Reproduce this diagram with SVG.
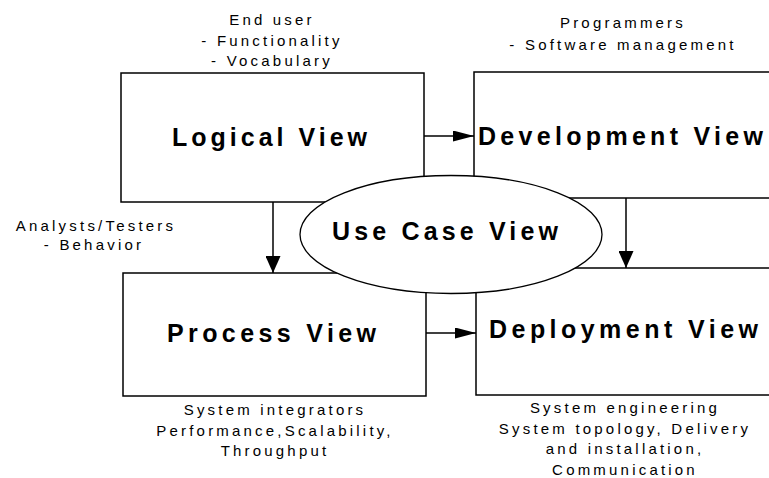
<svg xmlns="http://www.w3.org/2000/svg" width="769" height="478" viewBox="0 0 769 478">
<style>
.box{fill:#fff;stroke:#000;stroke-width:1.5}
.ell{fill:#fff;stroke:#000;stroke-width:1.3}
.title{font-family:"Liberation Sans",Arial,sans-serif;font-weight:bold;font-size:25px;fill:#000}
.note{font-family:"Liberation Sans",Arial,sans-serif;font-size:15px;letter-spacing:3.2px;fill:#000;text-anchor:middle}
.conn{stroke:#000;stroke-width:1.5;fill:none}
</style>
<defs>
<marker id="ah" markerUnits="userSpaceOnUse" markerWidth="21" markerHeight="11" refX="21" refY="5.5" orient="auto">
<path d="M0,0 L21,5.5 L0,11 z" fill="#000"/>
</marker>
<marker id="av" markerUnits="userSpaceOnUse" markerWidth="17" markerHeight="15" refX="17" refY="7.5" orient="auto">
<path d="M0,0 L17,7.5 L0,15 z" fill="#000"/>
</marker>
</defs>
<rect width="769" height="478" fill="#fff"/>
<g id="logical">
<rect class="box" x="121" y="73" width="303" height="129"/>
<text class="title" x="172" y="146" textLength="195" lengthAdjust="spacing">Logical View</text>
<text class="note" x="272" y="25">End user</text>
<text class="note" x="272" y="45.5">- Functionality</text>
<text class="note" x="272" y="66">- Vocabulary</text>
</g>
<g id="development">
<rect class="box" x="474" y="72" width="330" height="126"/>
<text class="title" x="478" y="145" textLength="285" lengthAdjust="spacing">Development View</text>
<text class="note" x="623" y="28">Programmers</text>
<text class="note" x="623" y="50">- Software management</text>
</g>
<g id="process">
<rect class="box" x="123" y="273" width="303" height="123"/>
<text class="title" x="167" y="342" textLength="209" lengthAdjust="spacing">Process View</text>
<text class="note" x="275" y="415">System integrators</text>
<text class="note" x="275" y="435.5">Performance,Scalability,</text>
<text class="note" x="275" y="456">Throughput</text>
</g>
<g id="deployment">
<rect class="box" x="476" y="268" width="330" height="127"/>
<text class="title" x="489" y="338" textLength="269" lengthAdjust="spacing">Deployment View</text>
<text class="note" x="625" y="413">System engineering</text>
<text class="note" x="625" y="433.5">System topology, Delivery</text>
<text class="note" x="625" y="454">and installation,</text>
<text class="note" x="625" y="474.5">Communication</text>
</g>
<g id="usecase">
<ellipse class="ell" cx="451" cy="234.5" rx="151" ry="59"/>
<text class="title" x="332" y="240" textLength="226" lengthAdjust="spacing">Use Case View</text>
</g>
<g id="analysts">
<text class="note" x="96" y="231">Analysts/Testers</text>
<text class="note" x="94" y="250">- Behavior</text>
</g>
<g id="connectors">
<line class="conn" x1="424" y1="136" x2="474" y2="136" marker-end="url(#ah)"/>
<line class="conn" x1="426" y1="333" x2="476" y2="333" marker-end="url(#ah)"/>
<line class="conn" x1="273" y1="202" x2="273" y2="273" marker-end="url(#av)"/>
<line class="conn" x1="626" y1="198" x2="626" y2="268" marker-end="url(#av)"/>
</g>
</svg>
